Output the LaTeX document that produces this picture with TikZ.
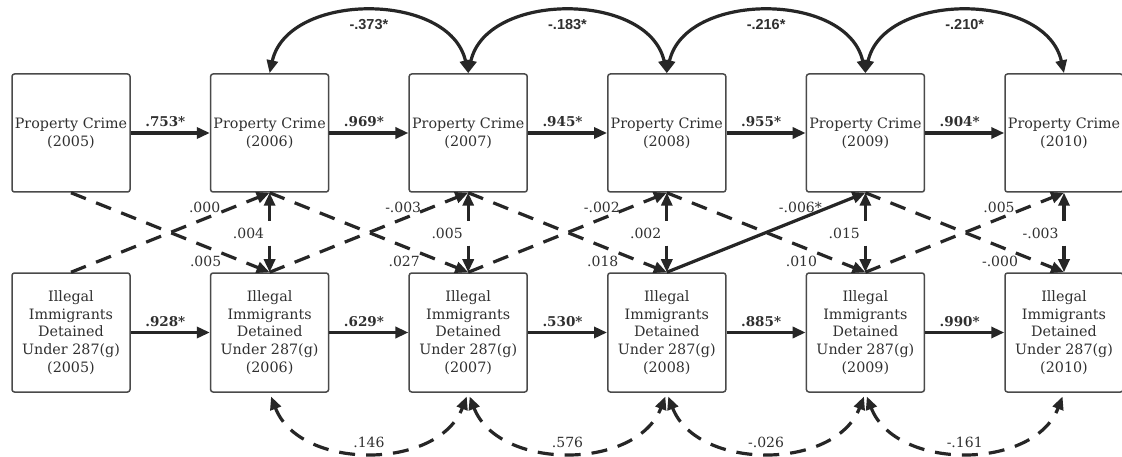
\documentclass[tikz,border=0pt]{standalone}
\usepackage{fontspec}
\setmainfont{DejaVu Serif}
\newfontfamily\arcfont{Liberation Sans}
\usetikzlibrary{arrows.meta,calc}
\definecolor{ln}{HTML}{262626}
\definecolor{tx}{HTML}{303030}
\definecolor{bd}{HTML}{4A4A4A}
\tikzset{
 box/.style={draw=bd, line width=1.5pt, rounded corners=2.5pt, fill=white, minimum width=118pt, inner sep=0pt, text=tx, align=center, font=\fontsize{14.3}{17.8}\selectfont},
 tbox/.style={box, minimum height=118pt},
 bbox/.style={box, minimum height=119pt},
 arr/.style={draw=ln, line width=3.2pt, -{Triangle[length=13pt,width=11pt]}},
 dbl/.style={draw=ln, line width=3.2pt, {Triangle[length=13pt,width=11pt]}-{Triangle[length=13pt,width=11pt]}},
 dsh/.style={dash pattern=on 16pt off 11pt},
 blab/.style={text=tx, font=\bfseries\fontsize{13.5}{15}\selectfont},
 rlab/.style={text=tx, font=\fontsize{14}{15}\selectfont},
 alab/.style={text=tx, font=\arcfont\bfseries\fontsize{14.5}{17}\selectfont},
}
\begin{document}
\begin{tikzpicture}[x=1pt,y=-1pt]
\useasboundingbox[fill=white] (0,0) rectangle (1122,457);
% boxes
\foreach \x [count=\i] in {71,269.6,468.2,666.8,865.4,1064}{
 \pgfmathtruncatemacro{\yr}{2004+\i}
 \node[tbox] (t\i) at (\x,133) {Property Crime\\(\yr)};
 \node[bbox] (b\i) at (\x,332.5) {Illegal\\Immigrants\\Detained\\Under 287(g)\\(\yr)};
}
% autoregressive paths
\foreach \i/\j/\a/\b in {1/2/.753*/.928*, 2/3/.969*/.629*, 3/4/.945*/.530*, 4/5/.955*/.885*, 5/6/.904*/.990*}{
 \draw[arr] (t\i) -- (t\j) node[blab, midway, yshift=11pt, xshift=-5pt] (ht\i) {\a};
 \draw[arr] (b\i) -- (b\j) node[blab, midway, yshift=11pt, xshift=-5pt] (hb\i) {\b};
}
% within-year covariances
\foreach \i/\l in {2/.004,3/.005,4/.002,5/.015,6/-.003}{
 \path (t\i.south) ++(0,28) coordinate (vu\i) ++(0,25) coordinate (vd\i);
 \draw[arr] (vu\i) -- (t\i.south);
 \draw[arr] (vd\i) -- (b\i.north);
 \node[rlab, anchor=east] (vl\i) at ($(vu\i)!0.5!(vd\i)+(-2,0)$) {\l};
}
% cross-lagged paths
\foreach \i/\j/\u/\d in {1/2/.000/.005, 2/3/-.003/.027, 3/4/-.002/.018, 5/6/.005/-.000}{
 \draw[arr, dsh] (b\i.north) -- (t\j.south);
 \draw[arr, dsh] (t\i.south) -- (b\j.north);
 \node[rlab] (cu\j) at ($(t\j.south)+(-65,15)$) {\u};
 \node[rlab] (cd\j) at ($(b\j.north)+(-64,-11)$) {\d};
}
\draw[arr] (b4.north) -- (t5.south);
\draw[arr, dsh] (t4.south) -- (b5.north);
\node[rlab] (cu5) at ($(t5.south)+(-65,15)$) {-.006*};
\node[rlab] (cd5) at ($(b5.north)+(-64,-11)$) {.010};
% residual covariances, top
\foreach \i/\j/\l in {2/3/-.373*, 3/4/-.183*, 4/5/-.216*, 5/6/-.210*}{
 \draw[dbl] (t\i.north) .. controls +(18,-82) and +(-18,-82) .. (t\j.north);
 \node[alab] (at\i) at ($(t\i.north)!0.5!(t\j.north)+(0,-49)$) {\l};
}
% residual covariances, bottom
\foreach \i/\j/\l in {2/3/.146, 3/4/.576, 4/5/-.026, 5/6/-.161}{
 \draw[dbl, dsh, shorten <=4pt, shorten >=4pt] (b\i.south) .. controls +(30,78) and +(-30,78) .. (b\j.south);
 \node[rlab] (ab\i) at ($(b\i.south)!0.5!(b\j.south)+(0,50)$) {\l};
}
\end{tikzpicture}
\end{document}
